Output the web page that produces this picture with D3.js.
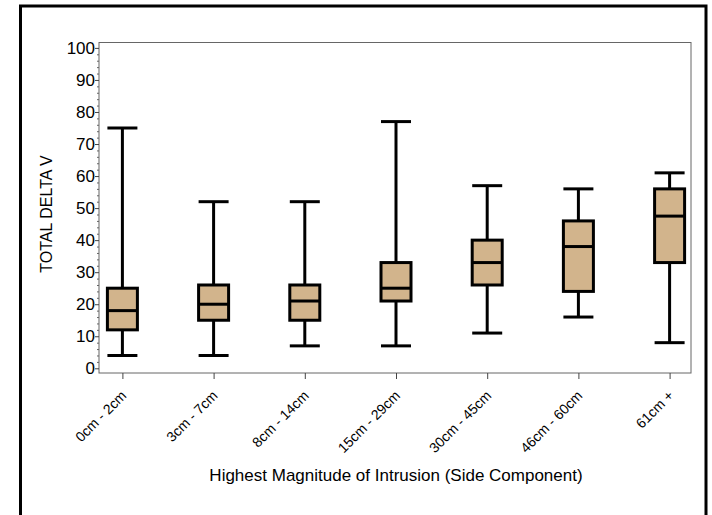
<!DOCTYPE html>
<html><head><meta charset="utf-8">
<script src="https://cdn.jsdelivr.net/npm/d3@7"></script>
<style>body{margin:0;background:#fff}svg{display:block}text{font-family:"Liberation Sans",Arial,sans-serif;fill:#000}</style>
</head><body><svg id="c" width="712" height="515"></svg>
<script>
const categories = ["0cm - 2cm","3cm - 7cm","8cm - 14cm","15cm - 29cm","30cm - 45cm","46cm - 60cm","61cm +"];
const minVals    = [4, 4, 7, 7, 11, 16, 8];
const q1Vals     = [12, 15, 15, 21, 26, 24, 33];
const medianVals = [18, 20, 21, 25, 33, 38, 47.5];
const q3Vals     = [25, 26, 26, 33, 40, 46, 56];
const maxVals    = [75, 52, 52, 77, 57, 56, 61];
const yTicks = [0,10,20,30,40,50,60,70,80,90,100];
const yTitle = "TOTAL DELTA V";
const xTitle = "Highest Magnitude of Intrusion (Side Component)";

const data = categories.map((c,i)=>({c, min:minVals[i], q1:q1Vals[i], med:medianVals[i], q3:q3Vals[i], max:maxVals[i]}));
const svg = d3.select("#c");
const L=99, R=691, T=42.5, B=373;

svg.append("rect").attr("x",20.5).attr("y",6).attr("width",685.5).attr("height",530)
  .attr("fill","none").attr("stroke","#000").attr("stroke-width",3);

const y = d3.scaleLinear().domain([0,100]).range([368.3,47.9]);
const x = d3.scalePoint().domain(categories).range([122.4,669.6]);

svg.append("rect").attr("x",L).attr("y",T).attr("width",R-L).attr("height",B-T)
  .attr("fill","none").attr("stroke","#666").attr("stroke-width",1);

// y axis
const ya = svg.append("g").attr("transform",`translate(${L},0)`)
  .call(d3.axisLeft(y).tickValues(yTicks).tickSize(4).tickPadding(0));
ya.select(".domain").remove();
ya.selectAll("line").attr("stroke","#444");
ya.selectAll("text").style("font-size","17px").attr("fill","#000");
const yMinor = svg.append("g").attr("transform",`translate(${L},0)`)
  .call(d3.axisLeft(y).tickValues(d3.range(0,101,2).filter(v=>v%10)).tickSize(2).tickFormat(""));
yMinor.select(".domain").remove();
yMinor.selectAll("line").attr("stroke","#666");

// x axis
const xa = svg.append("g").attr("transform",`translate(0,${B})`)
  .call(d3.axisBottom(x).tickSize(6).tickPadding(4));
xa.select(".domain").remove();
xa.selectAll("line").attr("stroke","#444");
xa.selectAll("text").style("font-size","14px").attr("text-anchor","end")
  .attr("x",0).attr("y",0).attr("dy","0.35em").attr("transform","translate(1,20) rotate(-45)");

const bw = 30;
const g = svg.append("g").selectAll("g").data(data).join("g");
g.append("line").attr("x1",d=>x(d.c)).attr("x2",d=>x(d.c)).attr("y1",d=>y(d.min)).attr("y2",d=>y(d.max))
  .attr("stroke","#000").attr("stroke-width",3);
g.append("line").attr("x1",d=>x(d.c)-bw/2).attr("x2",d=>x(d.c)+bw/2).attr("y1",d=>y(d.max)).attr("y2",d=>y(d.max))
  .attr("stroke","#000").attr("stroke-width",3);
g.append("line").attr("x1",d=>x(d.c)-bw/2).attr("x2",d=>x(d.c)+bw/2).attr("y1",d=>y(d.min)).attr("y2",d=>y(d.min))
  .attr("stroke","#000").attr("stroke-width",3);
g.append("rect").attr("x",d=>x(d.c)-bw/2).attr("width",bw).attr("y",d=>y(d.q3)).attr("height",d=>y(d.q1)-y(d.q3))
  .attr("fill","#D2B48C").attr("stroke","#000").attr("stroke-width",3);
g.append("line").attr("x1",d=>x(d.c)-bw/2).attr("x2",d=>x(d.c)+bw/2).attr("y1",d=>y(d.med)).attr("y2",d=>y(d.med))
  .attr("stroke","#000").attr("stroke-width",3);

svg.append("text").attr("transform","translate(52,214) rotate(-90)").attr("text-anchor","middle")
  .style("font-size","16px").text(yTitle);
svg.append("text").attr("x",396).attr("y",481).attr("text-anchor","middle")
  .style("font-size","17px").text(xTitle);
</script></body></html>
